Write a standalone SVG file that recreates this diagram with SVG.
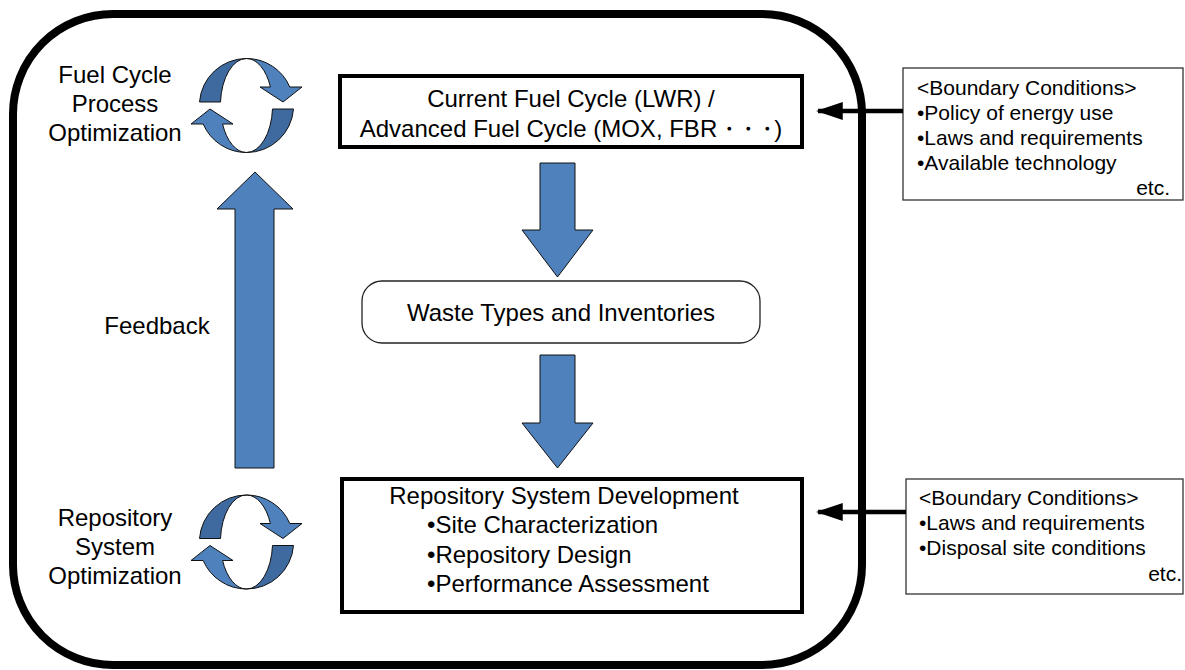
<svg xmlns="http://www.w3.org/2000/svg" width="1185" height="670" viewBox="0 0 1185 670">
<style>
text{font-family:"Liberation Sans",Arial,sans-serif;fill:#000}
.big{font-size:24px}
.sm{font-size:21px}
.blue{fill:#4f81bd;stroke:#111;stroke-width:1}
.dark{fill:#3e6a9f;stroke:#111;stroke-width:1}
.box{fill:#fff;stroke:#000;stroke-width:4}
.bc{fill:#fff;stroke:#333;stroke-width:1.3}
.conn{stroke:#000;stroke-width:4.5;fill:none}
</style>
<defs>
<g id="cyc">
<path class="dark" d="M-47,-3.5 A47,47 0 0 1 0,-47 A26,47 0 0 0 -26,-3.5 Z"/>
<path class="blue" d="M0,-47 A47,47 0 0 1 43.3,-18.5 L55.5,-18.5 L36.5,-3.5 L13.5,-18.5 L23.9,-18.5 A26,47 0 0 0 0,-47 Z"/>
<g transform="rotate(180)">
<path class="dark" d="M-47,-3.5 A47,47 0 0 1 0,-47 A26,47 0 0 0 -26,-3.5 Z"/>
<path class="blue" d="M0,-47 A47,47 0 0 1 43.3,-18.5 L55.5,-18.5 L36.5,-3.5 L13.5,-18.5 L23.9,-18.5 A26,47 0 0 0 0,-47 Z"/>
</g>
</g>
<marker id="ah" markerWidth="6" markerHeight="4" refX="5.5" refY="2" orient="auto" markerUnits="strokeWidth">
<path d="M0,0 L6,2 L0,4 Z" fill="#000"/>
</marker>
</defs>
<g id="frame">
<rect x="13" y="14" width="849" height="651" rx="100" ry="100" fill="none" stroke="#000" stroke-width="8"/>
</g>
<g id="fuelcycle">
<rect class="box" x="340" y="76" width="462" height="71"/>
<text class="big" x="571" y="107" text-anchor="middle">Current Fuel Cycle (LWR) /</text>
<text class="big" x="571" y="137" text-anchor="middle">Advanced Fuel Cycle (MOX, FBR<tspan letter-spacing="-5px">・・・</tspan>)</text>
</g>
<g id="waste">
<rect x="362" y="281" width="398" height="62" rx="20" ry="20" fill="#fff" stroke="#222" stroke-width="1.3"/>
<text class="big" x="561" y="321" text-anchor="middle">Waste Types and Inventories</text>
</g>
<g id="repository">
<rect class="box" x="342" y="479" width="460" height="133"/>
<text class="big" x="564" y="504" text-anchor="middle">Repository System Development</text>
<text class="big" x="427" y="533">•Site Characterization</text>
<text class="big" x="427" y="563">•Repository Design</text>
<text class="big" x="427" y="592">•Performance Assessment</text>
</g>
<g id="bc1">
<rect class="bc" x="903" y="68" width="280" height="132"/>
<text class="sm" x="917" y="95">&lt;Boundary Conditions&gt;</text>
<text class="sm" x="917" y="120">•Policy of energy use</text>
<text class="sm" x="917" y="145">•Laws and requirements</text>
<text class="sm" x="917" y="170">•Available technology</text>
<text class="sm" x="1170" y="195" text-anchor="end">etc.</text>
</g>
<g id="bc2">
<rect class="bc" x="906" y="479" width="277" height="115"/>
<text class="sm" x="919" y="505">&lt;Boundary Conditions&gt;</text>
<text class="sm" x="919" y="530">•Laws and requirements</text>
<text class="sm" x="919" y="555">•Disposal site conditions</text>
<text class="sm" x="1182" y="581" text-anchor="end">etc.</text>
</g>
<g id="fcpo">
<use href="#cyc" x="246.5" y="105.5"/>
<text class="big" x="115" y="83" text-anchor="middle">Fuel Cycle</text>
<text class="big" x="115" y="112" text-anchor="middle">Process</text>
<text class="big" x="115" y="141" text-anchor="middle">Optimization</text>
</g>
<g id="rso">
<use href="#cyc" x="246.5" y="542"/>
<text class="big" x="115" y="526" text-anchor="middle">Repository</text>
<text class="big" x="115" y="555" text-anchor="middle">System</text>
<text class="big" x="115" y="584" text-anchor="middle">Optimization</text>
</g>
<g id="feedback">
<path class="blue" d="M235,468 L235,209 L217,209 L255,172 L293,209 L274,209 L274,468 Z"/>
<text class="big" x="157" y="334" text-anchor="middle">Feedback</text>
</g>
<g id="connectors">
<path class="blue" d="M540,163 L575,163 L575,230 L593,230 L557.5,277 L522,230 L540,230 Z"/>
<path class="blue" d="M540,355 L575,355 L575,423 L593,423 L557.5,468 L522,423 L540,423 Z"/>
<line class="conn" x1="903" y1="111" x2="818" y2="111" marker-end="url(#ah)"/>
<line class="conn" x1="906" y1="512" x2="818" y2="512" marker-end="url(#ah)"/>
</g>
</svg>
